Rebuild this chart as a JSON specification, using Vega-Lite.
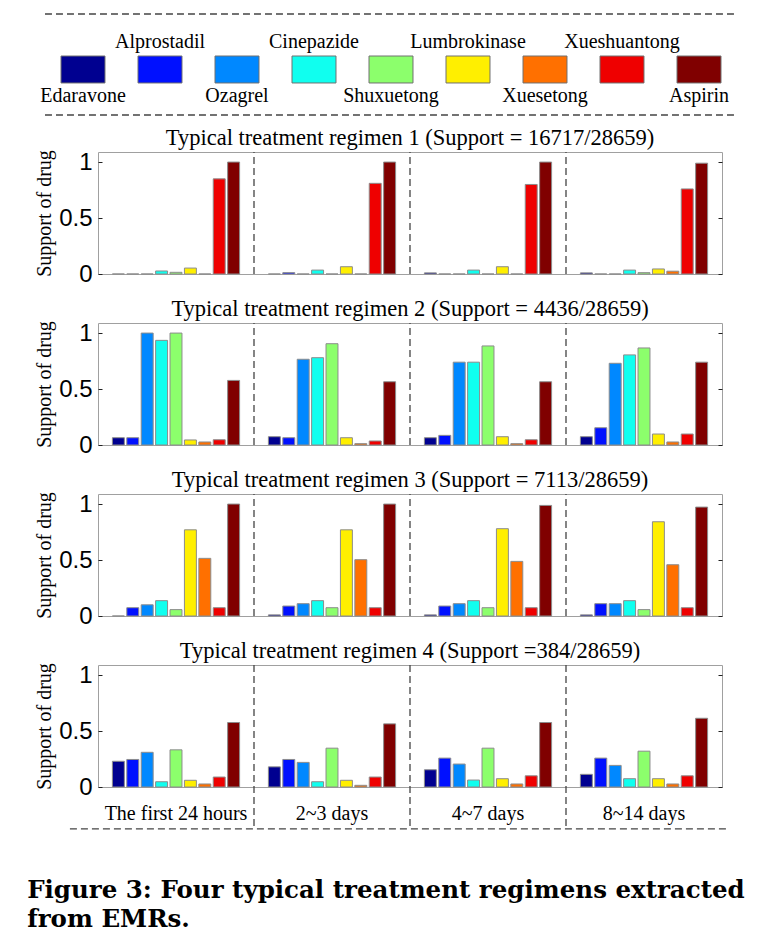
{
  "$schema": "https://vega.github.io/schema/vega-lite/v6.json",
  "background": "white",
  "padding": {"left": 27, "top": 13, "right": 10, "bottom": 10},
  "bounds": "flush",
  "spacing": 49,
  "title": {
    "text": ["Figure 3: Four typical treatment regimens extracted", "from EMRs."],
    "orient": "bottom",
    "anchor": "start",
    "font": "DejaVu Serif",
    "fontSize": 24.5,
    "fontWeight": "bold",
    "color": "#000",
    "lineHeight": 29,
    "baseline": "alphabetic",
    "offset": 68,
    "dx": -7,
    "dy": 0
  },
  "datasets": {
    "d": [
      {"regimen": 1, "period": "The first 24 hours", "drug": "Edaravone", "support": 0},
      {"regimen": 1, "period": "The first 24 hours", "drug": "Alprostadil", "support": 0},
      {"regimen": 1, "period": "The first 24 hours", "drug": "Ozagrel", "support": 0},
      {"regimen": 1, "period": "The first 24 hours", "drug": "Cinepazide", "support": 0.027},
      {"regimen": 1, "period": "The first 24 hours", "drug": "Shuxuetong", "support": 0.015},
      {"regimen": 1, "period": "The first 24 hours", "drug": "Lumbrokinase", "support": 0.053},
      {"regimen": 1, "period": "The first 24 hours", "drug": "Xuesetong", "support": 0},
      {"regimen": 1, "period": "The first 24 hours", "drug": "Xueshuantong", "support": 0.85},
      {"regimen": 1, "period": "The first 24 hours", "drug": "Aspirin", "support": 1.0},
      {"regimen": 1, "period": "2~3 days", "drug": "Edaravone", "support": 0},
      {"regimen": 1, "period": "2~3 days", "drug": "Alprostadil", "support": 0.012},
      {"regimen": 1, "period": "2~3 days", "drug": "Ozagrel", "support": 0},
      {"regimen": 1, "period": "2~3 days", "drug": "Cinepazide", "support": 0.035},
      {"regimen": 1, "period": "2~3 days", "drug": "Shuxuetong", "support": 0},
      {"regimen": 1, "period": "2~3 days", "drug": "Lumbrokinase", "support": 0.065},
      {"regimen": 1, "period": "2~3 days", "drug": "Xuesetong", "support": 0},
      {"regimen": 1, "period": "2~3 days", "drug": "Xueshuantong", "support": 0.81},
      {"regimen": 1, "period": "2~3 days", "drug": "Aspirin", "support": 1.0},
      {"regimen": 1, "period": "4~7 days", "drug": "Edaravone", "support": 0.01},
      {"regimen": 1, "period": "4~7 days", "drug": "Alprostadil", "support": 0},
      {"regimen": 1, "period": "4~7 days", "drug": "Ozagrel", "support": 0},
      {"regimen": 1, "period": "4~7 days", "drug": "Cinepazide", "support": 0.035},
      {"regimen": 1, "period": "4~7 days", "drug": "Shuxuetong", "support": 0},
      {"regimen": 1, "period": "4~7 days", "drug": "Lumbrokinase", "support": 0.065},
      {"regimen": 1, "period": "4~7 days", "drug": "Xuesetong", "support": 0},
      {"regimen": 1, "period": "4~7 days", "drug": "Xueshuantong", "support": 0.8},
      {"regimen": 1, "period": "4~7 days", "drug": "Aspirin", "support": 1.0},
      {"regimen": 1, "period": "8~14 days", "drug": "Edaravone", "support": 0.01},
      {"regimen": 1, "period": "8~14 days", "drug": "Alprostadil", "support": 0},
      {"regimen": 1, "period": "8~14 days", "drug": "Ozagrel", "support": 0},
      {"regimen": 1, "period": "8~14 days", "drug": "Cinepazide", "support": 0.035},
      {"regimen": 1, "period": "8~14 days", "drug": "Shuxuetong", "support": 0.012},
      {"regimen": 1, "period": "8~14 days", "drug": "Lumbrokinase", "support": 0.045},
      {"regimen": 1, "period": "8~14 days", "drug": "Xuesetong", "support": 0.025},
      {"regimen": 1, "period": "8~14 days", "drug": "Xueshuantong", "support": 0.76},
      {"regimen": 1, "period": "8~14 days", "drug": "Aspirin", "support": 0.99},
      {"regimen": 2, "period": "The first 24 hours", "drug": "Edaravone", "support": 0.065},
      {"regimen": 2, "period": "The first 24 hours", "drug": "Alprostadil", "support": 0.065},
      {"regimen": 2, "period": "The first 24 hours", "drug": "Ozagrel", "support": 1.0},
      {"regimen": 2, "period": "The first 24 hours", "drug": "Cinepazide", "support": 0.935},
      {"regimen": 2, "period": "The first 24 hours", "drug": "Shuxuetong", "support": 1.0},
      {"regimen": 2, "period": "The first 24 hours", "drug": "Lumbrokinase", "support": 0.045},
      {"regimen": 2, "period": "The first 24 hours", "drug": "Xuesetong", "support": 0.027},
      {"regimen": 2, "period": "The first 24 hours", "drug": "Xueshuantong", "support": 0.047},
      {"regimen": 2, "period": "The first 24 hours", "drug": "Aspirin", "support": 0.577},
      {"regimen": 2, "period": "2~3 days", "drug": "Edaravone", "support": 0.074},
      {"regimen": 2, "period": "2~3 days", "drug": "Alprostadil", "support": 0.065},
      {"regimen": 2, "period": "2~3 days", "drug": "Ozagrel", "support": 0.766},
      {"regimen": 2, "period": "2~3 days", "drug": "Cinepazide", "support": 0.78},
      {"regimen": 2, "period": "2~3 days", "drug": "Shuxuetong", "support": 0.905},
      {"regimen": 2, "period": "2~3 days", "drug": "Lumbrokinase", "support": 0.065},
      {"regimen": 2, "period": "2~3 days", "drug": "Xuesetong", "support": 0.012},
      {"regimen": 2, "period": "2~3 days", "drug": "Xueshuantong", "support": 0.036},
      {"regimen": 2, "period": "2~3 days", "drug": "Aspirin", "support": 0.565},
      {"regimen": 2, "period": "4~7 days", "drug": "Edaravone", "support": 0.065},
      {"regimen": 2, "period": "4~7 days", "drug": "Alprostadil", "support": 0.086},
      {"regimen": 2, "period": "4~7 days", "drug": "Ozagrel", "support": 0.74},
      {"regimen": 2, "period": "4~7 days", "drug": "Cinepazide", "support": 0.74},
      {"regimen": 2, "period": "4~7 days", "drug": "Shuxuetong", "support": 0.885},
      {"regimen": 2, "period": "4~7 days", "drug": "Lumbrokinase", "support": 0.074},
      {"regimen": 2, "period": "4~7 days", "drug": "Xuesetong", "support": 0.012},
      {"regimen": 2, "period": "4~7 days", "drug": "Xueshuantong", "support": 0.047},
      {"regimen": 2, "period": "4~7 days", "drug": "Aspirin", "support": 0.565},
      {"regimen": 2, "period": "8~14 days", "drug": "Edaravone", "support": 0.074},
      {"regimen": 2, "period": "8~14 days", "drug": "Alprostadil", "support": 0.154},
      {"regimen": 2, "period": "8~14 days", "drug": "Ozagrel", "support": 0.73},
      {"regimen": 2, "period": "8~14 days", "drug": "Cinepazide", "support": 0.805},
      {"regimen": 2, "period": "8~14 days", "drug": "Shuxuetong", "support": 0.867},
      {"regimen": 2, "period": "8~14 days", "drug": "Lumbrokinase", "support": 0.098},
      {"regimen": 2, "period": "8~14 days", "drug": "Xuesetong", "support": 0.027},
      {"regimen": 2, "period": "8~14 days", "drug": "Xueshuantong", "support": 0.098},
      {"regimen": 2, "period": "8~14 days", "drug": "Aspirin", "support": 0.74},
      {"regimen": 3, "period": "The first 24 hours", "drug": "Edaravone", "support": 0},
      {"regimen": 3, "period": "The first 24 hours", "drug": "Alprostadil", "support": 0.074},
      {"regimen": 3, "period": "The first 24 hours", "drug": "Ozagrel", "support": 0.1},
      {"regimen": 3, "period": "The first 24 hours", "drug": "Cinepazide", "support": 0.137},
      {"regimen": 3, "period": "The first 24 hours", "drug": "Shuxuetong", "support": 0.057},
      {"regimen": 3, "period": "The first 24 hours", "drug": "Lumbrokinase", "support": 0.77},
      {"regimen": 3, "period": "The first 24 hours", "drug": "Xuesetong", "support": 0.515},
      {"regimen": 3, "period": "The first 24 hours", "drug": "Xueshuantong", "support": 0.074},
      {"regimen": 3, "period": "The first 24 hours", "drug": "Aspirin", "support": 1.0},
      {"regimen": 3, "period": "2~3 days", "drug": "Edaravone", "support": 0.01},
      {"regimen": 3, "period": "2~3 days", "drug": "Alprostadil", "support": 0.089},
      {"regimen": 3, "period": "2~3 days", "drug": "Ozagrel", "support": 0.11},
      {"regimen": 3, "period": "2~3 days", "drug": "Cinepazide", "support": 0.137},
      {"regimen": 3, "period": "2~3 days", "drug": "Shuxuetong", "support": 0.074},
      {"regimen": 3, "period": "2~3 days", "drug": "Lumbrokinase", "support": 0.77},
      {"regimen": 3, "period": "2~3 days", "drug": "Xuesetong", "support": 0.503},
      {"regimen": 3, "period": "2~3 days", "drug": "Xueshuantong", "support": 0.074},
      {"regimen": 3, "period": "2~3 days", "drug": "Aspirin", "support": 1.0},
      {"regimen": 3, "period": "4~7 days", "drug": "Edaravone", "support": 0.01},
      {"regimen": 3, "period": "4~7 days", "drug": "Alprostadil", "support": 0.089},
      {"regimen": 3, "period": "4~7 days", "drug": "Ozagrel", "support": 0.11},
      {"regimen": 3, "period": "4~7 days", "drug": "Cinepazide", "support": 0.137},
      {"regimen": 3, "period": "4~7 days", "drug": "Shuxuetong", "support": 0.074},
      {"regimen": 3, "period": "4~7 days", "drug": "Lumbrokinase", "support": 0.78},
      {"regimen": 3, "period": "4~7 days", "drug": "Xuesetong", "support": 0.488},
      {"regimen": 3, "period": "4~7 days", "drug": "Xueshuantong", "support": 0.074},
      {"regimen": 3, "period": "4~7 days", "drug": "Aspirin", "support": 0.988},
      {"regimen": 3, "period": "8~14 days", "drug": "Edaravone", "support": 0.01},
      {"regimen": 3, "period": "8~14 days", "drug": "Alprostadil", "support": 0.11},
      {"regimen": 3, "period": "8~14 days", "drug": "Ozagrel", "support": 0.11},
      {"regimen": 3, "period": "8~14 days", "drug": "Cinepazide", "support": 0.137},
      {"regimen": 3, "period": "8~14 days", "drug": "Shuxuetong", "support": 0.057},
      {"regimen": 3, "period": "8~14 days", "drug": "Lumbrokinase", "support": 0.842},
      {"regimen": 3, "period": "8~14 days", "drug": "Xuesetong", "support": 0.458},
      {"regimen": 3, "period": "8~14 days", "drug": "Xueshuantong", "support": 0.074},
      {"regimen": 3, "period": "8~14 days", "drug": "Aspirin", "support": 0.973},
      {"regimen": 4, "period": "The first 24 hours", "drug": "Edaravone", "support": 0.23},
      {"regimen": 4, "period": "The first 24 hours", "drug": "Alprostadil", "support": 0.246},
      {"regimen": 4, "period": "The first 24 hours", "drug": "Ozagrel", "support": 0.31},
      {"regimen": 4, "period": "The first 24 hours", "drug": "Cinepazide", "support": 0.047},
      {"regimen": 4, "period": "The first 24 hours", "drug": "Shuxuetong", "support": 0.332},
      {"regimen": 4, "period": "The first 24 hours", "drug": "Lumbrokinase", "support": 0.06},
      {"regimen": 4, "period": "The first 24 hours", "drug": "Xuesetong", "support": 0.027},
      {"regimen": 4, "period": "The first 24 hours", "drug": "Xueshuantong", "support": 0.089},
      {"regimen": 4, "period": "The first 24 hours", "drug": "Aspirin", "support": 0.576},
      {"regimen": 4, "period": "2~3 days", "drug": "Edaravone", "support": 0.18},
      {"regimen": 4, "period": "2~3 days", "drug": "Alprostadil", "support": 0.246},
      {"regimen": 4, "period": "2~3 days", "drug": "Ozagrel", "support": 0.22},
      {"regimen": 4, "period": "2~3 days", "drug": "Cinepazide", "support": 0.047},
      {"regimen": 4, "period": "2~3 days", "drug": "Shuxuetong", "support": 0.347},
      {"regimen": 4, "period": "2~3 days", "drug": "Lumbrokinase", "support": 0.06},
      {"regimen": 4, "period": "2~3 days", "drug": "Xuesetong", "support": 0.015},
      {"regimen": 4, "period": "2~3 days", "drug": "Xueshuantong", "support": 0.089},
      {"regimen": 4, "period": "2~3 days", "drug": "Aspirin", "support": 0.564},
      {"regimen": 4, "period": "4~7 days", "drug": "Edaravone", "support": 0.154},
      {"regimen": 4, "period": "4~7 days", "drug": "Alprostadil", "support": 0.258},
      {"regimen": 4, "period": "4~7 days", "drug": "Ozagrel", "support": 0.205},
      {"regimen": 4, "period": "4~7 days", "drug": "Cinepazide", "support": 0.062},
      {"regimen": 4, "period": "4~7 days", "drug": "Shuxuetong", "support": 0.347},
      {"regimen": 4, "period": "4~7 days", "drug": "Lumbrokinase", "support": 0.074},
      {"regimen": 4, "period": "4~7 days", "drug": "Xuesetong", "support": 0.027},
      {"regimen": 4, "period": "4~7 days", "drug": "Xueshuantong", "support": 0.1},
      {"regimen": 4, "period": "4~7 days", "drug": "Aspirin", "support": 0.576},
      {"regimen": 4, "period": "8~14 days", "drug": "Edaravone", "support": 0.113},
      {"regimen": 4, "period": "8~14 days", "drug": "Alprostadil", "support": 0.258},
      {"regimen": 4, "period": "8~14 days", "drug": "Ozagrel", "support": 0.193},
      {"regimen": 4, "period": "8~14 days", "drug": "Cinepazide", "support": 0.074},
      {"regimen": 4, "period": "8~14 days", "drug": "Shuxuetong", "support": 0.32},
      {"regimen": 4, "period": "8~14 days", "drug": "Lumbrokinase", "support": 0.074},
      {"regimen": 4, "period": "8~14 days", "drug": "Xuesetong", "support": 0.027},
      {"regimen": 4, "period": "8~14 days", "drug": "Xueshuantong", "support": 0.1},
      {"regimen": 4, "period": "8~14 days", "drug": "Aspirin", "support": 0.614}
    ],
    "drugs": [
      {"drug": "Edaravone"}, {"drug": "Alprostadil"}, {"drug": "Ozagrel"}, {"drug": "Cinepazide"},
      {"drug": "Shuxuetong"}, {"drug": "Lumbrokinase"}, {"drug": "Xuesetong"}, {"drug": "Xueshuantong"}, {"drug": "Aspirin"}
    ],
    "one": [{"k": 1}]
  },
  "vconcat": [
    {
      "width": 624,
      "height": 89,
      "view": {"stroke": null},
      "layer": [
        {
          "data": {"name": "one"},
          "mark": {"type": "rule", "strokeDash": [7, 4], "color": "#444", "strokeWidth": 1.3},
          "encoding": {
            "x": {"datum": -0.085, "type": "quantitative", "scale": {"domain": [0, 1], "nice": false, "zero": false}, "axis": null},
            "x2": {"datum": 1.021},
            "y": {"datum": 1, "type": "quantitative", "scale": {"domain": [0, 1], "nice": false}, "axis": null}
          }
        },
        {
          "data": {"name": "one"},
          "mark": {"type": "rule", "strokeDash": [7, 4], "color": "#444", "strokeWidth": 1.3},
          "encoding": {
            "x": {"datum": -0.085, "type": "quantitative", "scale": {"domain": [0, 1], "nice": false, "zero": false}, "axis": null},
            "x2": {"datum": 1.021},
            "y": {"datum": -0.135, "type": "quantitative", "axis": null}
          }
        },
        {
          "data": {"name": "drugs"},
          "layer": [
            {
              "mark": {"type": "rect", "stroke": "#707070", "strokeWidth": 1},
              "encoding": {
                "x": {"field": "drug", "type": "nominal", "sort": null, "scale": {"domain": ["Edaravone", "Alprostadil", "Ozagrel", "Cinepazide", "Shuxuetong", "Lumbrokinase", "Xuesetong", "Xueshuantong", "Aspirin"], "range": [-37, 623], "paddingInner": 0.4286, "paddingOuter": 0}, "axis": null},
                "y": {"datum": 0.528, "type": "quantitative", "axis": null},
                "y2": {"datum": 0.225},
                "color": {"field": "drug", "type": "nominal", "scale": {"domain": ["Edaravone", "Alprostadil", "Ozagrel", "Cinepazide", "Shuxuetong", "Lumbrokinase", "Xuesetong", "Xueshuantong", "Aspirin"], "range": ["#000090", "#0010ff", "#0088ff", "#10ffef", "#8cff6c", "#ffef00", "#ff7000", "#ef0000", "#800000"]}, "legend": null}
              }
            },
            {
              "transform": [{"filter": {"field": "drug", "oneOf": ["Alprostadil", "Cinepazide", "Lumbrokinase", "Xueshuantong"]}}],
              "mark": {"type": "text", "font": "Liberation Serif", "fontSize": 20, "baseline": "alphabetic", "color": "#000"},
              "encoding": {
                "x": {"field": "drug", "type": "nominal"},
                "y": {"datum": 0.618, "type": "quantitative"},
                "text": {"field": "drug"}
              }
            },
            {
              "transform": [{"filter": {"field": "drug", "oneOf": ["Edaravone", "Ozagrel", "Shuxuetong", "Xuesetong", "Aspirin"]}}],
              "mark": {"type": "text", "font": "Liberation Serif", "fontSize": 20, "baseline": "alphabetic", "color": "#000"},
              "encoding": {
                "x": {"field": "drug", "type": "nominal"},
                "y": {"datum": 0.011, "type": "quantitative"},
                "text": {"field": "drug"}
              }
            }
          ]
        }
      ],
      "resolve": {"scale": {"x": "independent"}}
    },
    {
      "width": 624,
      "height": 122,
      "title": "Typical treatment regimen 1 (Support = 16717/28659)",
      "data": {"name": "d"},
      "transform": [{"filter": "datum.regimen == 1"}],
      "layer": [
        {
          "mark": {"type": "bar", "stroke": "#8c8c8c", "strokeWidth": 1},
          "encoding": {
            "x": {"field": "period", "type": "nominal", "scale": {"domain": ["The first 24 hours", "2~3 days", "4~7 days", "8~14 days"], "paddingInner": 0, "paddingOuter": 0}, "axis": null},
            "xOffset": {"field": "drug", "type": "nominal", "scale": {"domain": ["Edaravone", "Alprostadil", "Ozagrel", "Cinepazide", "Shuxuetong", "Lumbrokinase", "Xuesetong", "Xueshuantong", "Aspirin"], "paddingInner": 0.17, "paddingOuter": 1.2}},
            "y": {"field": "support", "type": "quantitative", "scale": {"domain": [0, 1.09], "nice": false}, "axis": {"orient": "left", "values": [0, 0.5, 1], "format": "~g", "labelFont": "Liberation Sans", "labelFontSize": 24, "labelColor": "#000", "tickSize": -4, "tickColor": "#222", "labelPadding": 10, "domain": false, "grid": false, "title": "Support of drug", "titleFont": "Liberation Serif", "titleFontSize": 20, "titleFontWeight": "normal", "titleColor": "#000", "titlePadding": 4}},
            "color": {"field": "drug", "type": "nominal", "scale": {"domain": ["Edaravone", "Alprostadil", "Ozagrel", "Cinepazide", "Shuxuetong", "Lumbrokinase", "Xuesetong", "Xueshuantong", "Aspirin"], "range": ["#000090", "#0010ff", "#0088ff", "#10ffef", "#8cff6c", "#ffef00", "#ff7000", "#ef0000", "#800000"]}, "legend": null}
          }
        },
        {
          "transform": [{"filter": "datum.drug == 'Edaravone' && datum.period != 'The first 24 hours'"}],
          "mark": {"type": "rule", "strokeDash": [7, 4], "color": "#444", "strokeWidth": 1.3},
          "encoding": {
            "x": {"field": "period", "type": "nominal", "bandPosition": 0},
            "y": {"datum": 0, "type": "quantitative", "axis": {"orient": "right", "values": [0, 0.5, 1], "labels": false, "tickSize": -4, "tickColor": "#222", "domain": false, "grid": false, "title": null}},
            "y2": {"datum": 1.09}
          }
        }
      ]
    },
    {
      "width": 624,
      "height": 122,
      "title": "Typical treatment regimen 2 (Support = 4436/28659)",
      "data": {"name": "d"},
      "transform": [{"filter": "datum.regimen == 2"}],
      "layer": [
        {
          "mark": {"type": "bar", "stroke": "#8c8c8c", "strokeWidth": 1},
          "encoding": {
            "x": {"field": "period", "type": "nominal", "scale": {"domain": ["The first 24 hours", "2~3 days", "4~7 days", "8~14 days"], "paddingInner": 0, "paddingOuter": 0}, "axis": null},
            "xOffset": {"field": "drug", "type": "nominal", "scale": {"domain": ["Edaravone", "Alprostadil", "Ozagrel", "Cinepazide", "Shuxuetong", "Lumbrokinase", "Xuesetong", "Xueshuantong", "Aspirin"], "paddingInner": 0.17, "paddingOuter": 1.2}},
            "y": {"field": "support", "type": "quantitative", "scale": {"domain": [0, 1.09], "nice": false}, "axis": {"orient": "left", "values": [0, 0.5, 1], "format": "~g", "labelFont": "Liberation Sans", "labelFontSize": 24, "labelColor": "#000", "tickSize": -4, "tickColor": "#222", "labelPadding": 10, "domain": false, "grid": false, "title": "Support of drug", "titleFont": "Liberation Serif", "titleFontSize": 20, "titleFontWeight": "normal", "titleColor": "#000", "titlePadding": 4}},
            "color": {"field": "drug", "type": "nominal", "scale": {"domain": ["Edaravone", "Alprostadil", "Ozagrel", "Cinepazide", "Shuxuetong", "Lumbrokinase", "Xuesetong", "Xueshuantong", "Aspirin"], "range": ["#000090", "#0010ff", "#0088ff", "#10ffef", "#8cff6c", "#ffef00", "#ff7000", "#ef0000", "#800000"]}, "legend": null}
          }
        },
        {
          "transform": [{"filter": "datum.drug == 'Edaravone' && datum.period != 'The first 24 hours'"}],
          "mark": {"type": "rule", "strokeDash": [7, 4], "color": "#444", "strokeWidth": 1.3},
          "encoding": {
            "x": {"field": "period", "type": "nominal", "bandPosition": 0},
            "y": {"datum": 0, "type": "quantitative", "axis": {"orient": "right", "values": [0, 0.5, 1], "labels": false, "tickSize": -4, "tickColor": "#222", "domain": false, "grid": false, "title": null}},
            "y2": {"datum": 1.09}
          }
        }
      ]
    },
    {
      "width": 624,
      "height": 122,
      "title": "Typical treatment regimen 3 (Support = 7113/28659)",
      "data": {"name": "d"},
      "transform": [{"filter": "datum.regimen == 3"}],
      "layer": [
        {
          "mark": {"type": "bar", "stroke": "#8c8c8c", "strokeWidth": 1},
          "encoding": {
            "x": {"field": "period", "type": "nominal", "scale": {"domain": ["The first 24 hours", "2~3 days", "4~7 days", "8~14 days"], "paddingInner": 0, "paddingOuter": 0}, "axis": null},
            "xOffset": {"field": "drug", "type": "nominal", "scale": {"domain": ["Edaravone", "Alprostadil", "Ozagrel", "Cinepazide", "Shuxuetong", "Lumbrokinase", "Xuesetong", "Xueshuantong", "Aspirin"], "paddingInner": 0.17, "paddingOuter": 1.2}},
            "y": {"field": "support", "type": "quantitative", "scale": {"domain": [0, 1.09], "nice": false}, "axis": {"orient": "left", "values": [0, 0.5, 1], "format": "~g", "labelFont": "Liberation Sans", "labelFontSize": 24, "labelColor": "#000", "tickSize": -4, "tickColor": "#222", "labelPadding": 10, "domain": false, "grid": false, "title": "Support of drug", "titleFont": "Liberation Serif", "titleFontSize": 20, "titleFontWeight": "normal", "titleColor": "#000", "titlePadding": 4}},
            "color": {"field": "drug", "type": "nominal", "scale": {"domain": ["Edaravone", "Alprostadil", "Ozagrel", "Cinepazide", "Shuxuetong", "Lumbrokinase", "Xuesetong", "Xueshuantong", "Aspirin"], "range": ["#000090", "#0010ff", "#0088ff", "#10ffef", "#8cff6c", "#ffef00", "#ff7000", "#ef0000", "#800000"]}, "legend": null}
          }
        },
        {
          "transform": [{"filter": "datum.drug == 'Edaravone' && datum.period != 'The first 24 hours'"}],
          "mark": {"type": "rule", "strokeDash": [7, 4], "color": "#444", "strokeWidth": 1.3},
          "encoding": {
            "x": {"field": "period", "type": "nominal", "bandPosition": 0},
            "y": {"datum": 0, "type": "quantitative", "axis": {"orient": "right", "values": [0, 0.5, 1], "labels": false, "tickSize": -4, "tickColor": "#222", "domain": false, "grid": false, "title": null}},
            "y2": {"datum": 1.09}
          }
        }
      ]
    },
    {
      "width": 624,
      "height": 122,
      "title": "Typical treatment regimen 4 (Support =384/28659)",
      "data": {"name": "d"},
      "transform": [{"filter": "datum.regimen == 4"}],
      "layer": [
        {
          "layer": [
            {
              "mark": {"type": "bar", "stroke": "#8c8c8c", "strokeWidth": 1},
              "encoding": {
                "x": {"field": "period", "type": "nominal", "scale": {"domain": ["The first 24 hours", "2~3 days", "4~7 days", "8~14 days"], "paddingInner": 0, "paddingOuter": 0}, "axis": {"orient": "bottom", "labelFont": "Liberation Serif", "labelFontSize": 20, "labelColor": "#000", "labelAngle": 0, "ticks": false, "tickSize": 0, "domain": false, "labelPadding": 32, "labelBaseline": "alphabetic", "title": null}},
                "xOffset": {"field": "drug", "type": "nominal", "scale": {"domain": ["Edaravone", "Alprostadil", "Ozagrel", "Cinepazide", "Shuxuetong", "Lumbrokinase", "Xuesetong", "Xueshuantong", "Aspirin"], "paddingInner": 0.17, "paddingOuter": 1.2}},
                "y": {"field": "support", "type": "quantitative", "scale": {"domain": [0, 1.09], "nice": false}, "axis": {"orient": "left", "values": [0, 0.5, 1], "format": "~g", "labelFont": "Liberation Sans", "labelFontSize": 24, "labelColor": "#000", "tickSize": -4, "tickColor": "#222", "labelPadding": 10, "domain": false, "grid": false, "title": "Support of drug", "titleFont": "Liberation Serif", "titleFontSize": 20, "titleFontWeight": "normal", "titleColor": "#000", "titlePadding": 4}},
                "color": {"field": "drug", "type": "nominal", "scale": {"domain": ["Edaravone", "Alprostadil", "Ozagrel", "Cinepazide", "Shuxuetong", "Lumbrokinase", "Xuesetong", "Xueshuantong", "Aspirin"], "range": ["#000090", "#0010ff", "#0088ff", "#10ffef", "#8cff6c", "#ffef00", "#ff7000", "#ef0000", "#800000"]}, "legend": null}
              }
            },
            {
              "transform": [{"filter": "datum.drug == 'Edaravone' && datum.period != 'The first 24 hours'"}],
              "mark": {"type": "rule", "strokeDash": [7, 4], "color": "#444", "strokeWidth": 1.3},
              "encoding": {
                "x": {"field": "period", "type": "nominal", "bandPosition": 0},
                "y": {"datum": 1.09, "type": "quantitative", "axis": {"orient": "right", "values": [0, 0.5, 1], "labels": false, "tickSize": -4, "tickColor": "#222", "domain": false, "grid": false, "title": null}},
                "y2": {"datum": -0.375}
              }
            }
          ]
        },
        {
          "data": {"name": "one"},
          "mark": {"type": "rule", "strokeDash": [7, 4], "color": "#444", "strokeWidth": 1.3},
          "encoding": {
            "x": {"datum": -0.045, "type": "quantitative", "scale": {"domain": [0, 1], "nice": false, "zero": false}, "axis": null},
            "x2": {"datum": 1.008},
            "y": {"datum": -0.375, "type": "quantitative", "axis": null}
          }
        }
      ],
      "resolve": {"scale": {"x": "independent"}}
    }
  ],
  "config": {
    "view": {"stroke": "#a0a0a0", "strokeWidth": 1},
    "font": "Liberation Serif",
    "title": {"font": "Liberation Serif", "fontSize": 22.5, "fontWeight": "normal", "color": "#000", "baseline": "alphabetic", "offset": 0, "dy": 4, "anchor": "middle"},
    "axis": {"grid": false}
  }
}
